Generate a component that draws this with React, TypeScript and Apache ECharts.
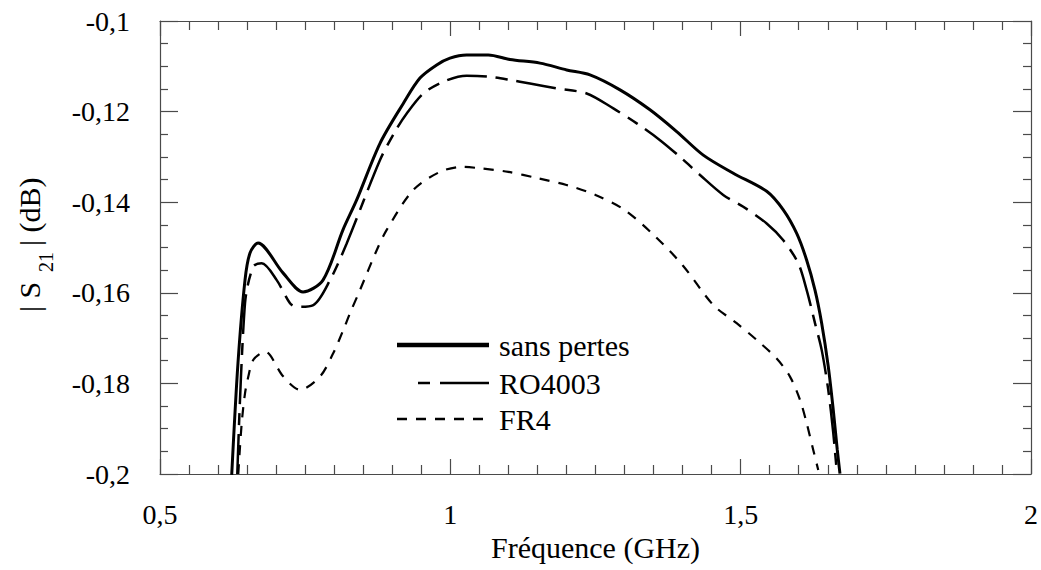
import React, { useEffect, useRef } from "react";
import * as echarts from "echarts";

const seriesNames = ["sans pertes", "RO4003", "FR4"];

const freqLossless = [0.6235, 0.6343, 0.6464, 0.655, 0.6688, 0.7118, 0.7463, 0.7807, 0.8151, 0.8387, 0.8789, 0.919, 0.9477, 0.9765, 0.9994, 1.028, 1.0654, 1.1027, 1.1544, 1.2003, 1.2405, 1.2922, 1.3438, 1.3898, 1.4356, 1.4873, 1.5448, 1.5734, 1.5965, 1.6137, 1.628, 1.6395, 1.6509, 1.6595, 1.6664, 1.671];
const s21Lossless = [-0.2002, -0.1755, -0.1572, -0.1512, -0.149, -0.1556, -0.1598, -0.1572, -0.1461, -0.1395, -0.127, -0.1182, -0.1126, -0.1097, -0.1082, -0.1075, -0.1075, -0.1085, -0.1093, -0.1108, -0.1119, -0.1152, -0.1196, -0.1244, -0.1296, -0.1336, -0.1376, -0.1417, -0.1469, -0.1528, -0.1594, -0.1667, -0.1763, -0.1859, -0.1947, -0.1999];

const freqRO = [0.6331, 0.6464, 0.6607, 0.6751, 0.701, 0.7239, 0.7354, 0.764, 0.7928, 0.8215, 0.8789, 0.9047, 0.9249, 0.9534, 0.9879, 1.028, 1.0654, 1.1027, 1.1371, 1.1831, 1.2348, 1.2807, 1.321, 1.3611, 1.3955, 1.43, 1.47, 1.5045, 1.5448, 1.5734, 1.5992, 1.6137, 1.628, 1.6395, 1.6509, 1.6595, 1.6653];
const s21RO = [-0.2, -0.1623, -0.1542, -0.1535, -0.1572, -0.1623, -0.1631, -0.1627, -0.1572, -0.1491, -0.1307, -0.1244, -0.1204, -0.116, -0.1134, -0.1121, -0.1123, -0.113, -0.1138, -0.1149, -0.116, -0.1193, -0.1226, -0.1263, -0.13, -0.134, -0.1384, -0.141, -0.1447, -0.1484, -0.1535, -0.1594, -0.1667, -0.1726, -0.1815, -0.191, -0.1991];

const freqFR4 = [0.6348, 0.6407, 0.6464, 0.6521, 0.6607, 0.6808, 0.7124, 0.7411, 0.7755, 0.7985, 0.8157, 0.8272, 0.8444, 0.8732, 0.8904, 0.9362, 0.9822, 1.02, 1.05, 1.1, 1.15, 1.2, 1.25, 1.3, 1.35, 1.4, 1.4528, 1.4931, 1.5275, 1.562, 1.5849, 1.6021, 1.6137, 1.625, 1.6336];
const s21FR4 = [-0.2, -0.1888, -0.1822, -0.1785, -0.1748, -0.173, -0.1785, -0.1814, -0.1785, -0.1733, -0.1682, -0.1645, -0.1594, -0.1506, -0.1461, -0.1373, -0.1333, -0.1322, -0.1325, -0.1333, -0.1347, -0.1362, -0.1384, -0.1417, -0.1472, -0.1539, -0.1627, -0.1667, -0.1704, -0.1745, -0.1785, -0.1836, -0.1888, -0.1947, -0.1991];

const xTicks = [0.5, 1, 1.5, 2];
const yTicks = [-0.2, -0.18, -0.16, -0.14, -0.12, -0.1];

const FONT = "Liberation Serif";
const AXIS_COLOR = "#4a4a4a";

const lineWidths = [3, 2.5, 2.2];
const legendWidths = [4.5, 2.5, 2.5];
const dashes: (number[] | null)[] = [null, [40, 9, 12, 9], [10, 9]];
const legendDashes: (number[] | null)[] = [null, [12, 10, 46, 0], [10, 9]];

function fmt(v: number): string {
  return String(parseFloat(v.toFixed(3))).replace(".", ",");
}

function pairs(xs: number[], ys: number[]) {
  return xs.map((x, i) => [x, ys[i]]);
}

export default function App() {
  const ref = useRef<HTMLDivElement>(null);
  useEffect(() => {
    if (!ref.current) return;
    const chart = echarts.init(ref.current, undefined, { renderer: "svg" });
    const tickCommon = {
      axisLine: { show: true, lineStyle: { color: AXIS_COLOR, width: 1.2 } },
      splitLine: { show: false },
    };
    const xBase = {
      type: "value" as const,
      min: xTicks[0],
      max: xTicks[xTicks.length - 1],
      interval: 0.5,
      ...tickCommon,
      axisTick: { show: true, inside: true, length: 15, lineStyle: { color: AXIS_COLOR, width: 1.2 } },
      minorTick: { show: true, splitNumber: 10, length: 9, lineStyle: { color: AXIS_COLOR, width: 1.2 } },
    };
    const yBase = {
      type: "value" as const,
      min: yTicks[0],
      max: yTicks[yTicks.length - 1],
      interval: 0.02,
      ...tickCommon,
      axisTick: { show: true, inside: true, length: 18, lineStyle: { color: AXIS_COLOR, width: 1.2 } },
      minorTick: { show: true, splitNumber: 4, length: 8, lineStyle: { color: AXIS_COLOR, width: 1.2 } },
    };
    const legendRows = [345, 383, 419];
    const legendGraphics: any[] = [];
    seriesNames.forEach((name, i) => {
      const d = legendDashes[i];
      legendGraphics.push({
        type: "line",
        shape: { x1: i === 1 ? 418 : 397, y1: legendRows[i], x2: 489, y2: legendRows[i] },
        style: { stroke: "#000", lineWidth: legendWidths[i], lineDash: d || undefined },
      });
      legendGraphics.push({
        type: "text",
        x: 499,
        y: legendRows[i],
        style: { text: name, fontFamily: FONT, fontSize: 30, fill: "#000", verticalAlign: "middle", align: "left" },
      });
    });
    chart.setOption({
      animation: false,
      backgroundColor: "#ffffff",
      textStyle: { fontFamily: FONT },
      grid: { left: 160, top: 21, right: 10, bottom: 96, containLabel: false },
      xAxis: [
        {
          ...xBase,
          position: "bottom",
          name: "Fréquence (GHz)",
          nameLocation: "middle",
          nameGap: 58,
          nameTextStyle: { fontFamily: FONT, fontSize: 30, color: "#000" },
          axisLabel: { show: true, margin: 26, fontFamily: FONT, fontSize: 28, color: "#000", formatter: fmt },
        },
        { ...xBase, position: "top", axisLabel: { show: false } },
      ],
      yAxis: [
        {
          ...yBase,
          position: "left",
          axisLabel: { show: true, margin: 30, fontFamily: FONT, fontSize: 28, color: "#000", formatter: fmt },
        },
        { ...yBase, position: "right", axisLabel: { show: false } },
      ],
      graphic: [
        {
          type: "group",
          x: 44,
          y: 312,
          rotation: Math.PI / 2,
          children: [
            { type: "text", x: 0, y: 0, style: { text: "| S", fontFamily: FONT, fontSize: 30, fill: "#000", verticalAlign: "bottom" } },
            { type: "text", x: 40, y: 12, style: { text: "21", fontFamily: FONT, fontSize: 20, fill: "#000", verticalAlign: "bottom" } },
            { type: "text", x: 66, y: 0, style: { text: "| (dB)", fontFamily: FONT, fontSize: 30, fill: "#000", verticalAlign: "bottom" } },
          ],
        },
        ...legendGraphics,
      ],
      series: seriesNames.map((name, i) => ({
        name,
        type: "line",
        xAxisIndex: 0,
        yAxisIndex: 0,
        data: i === 0 ? pairs(freqLossless, s21Lossless) : i === 1 ? pairs(freqRO, s21RO) : pairs(freqFR4, s21FR4),
        showSymbol: false,
        symbol: "none",
        smooth: 0.3,
        clip: true,
        lineStyle: { color: "#000", width: lineWidths[i], type: dashes[i] || "solid" },
        itemStyle: { color: "#000" },
      })),
    });
    return () => chart.dispose();
  }, []);
  return (
    <div
      ref={ref}
      style={{ position: "absolute", left: 0, top: 0, width: 1041, height: 570, background: "#fff" }}
    />
  );
}
